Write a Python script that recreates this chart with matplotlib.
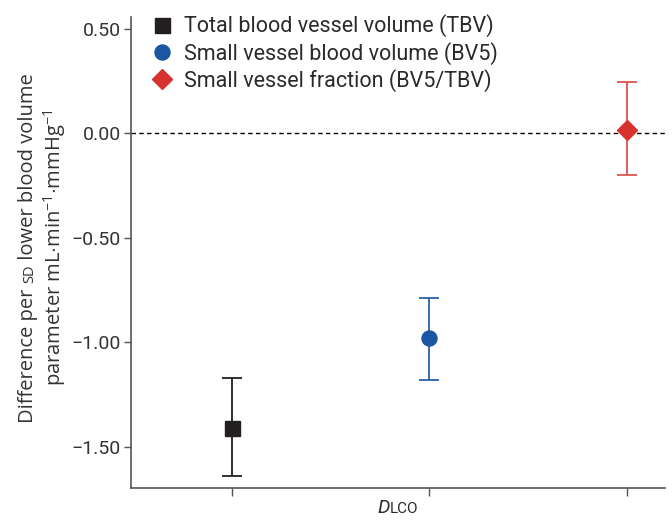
import matplotlib
matplotlib.use("Agg")
import matplotlib.pyplot as plt
from matplotlib.lines import Line2D

plt.rcParams['font.family'] = ['Roboto', 'DejaVu Sans']
plt.rcParams['mathtext.fontset'] = 'custom'
plt.rcParams['mathtext.rm'] = 'Open Sans'
plt.rcParams['mathtext.it'] = 'Open Sans:italic'

# data
series = ["Total blood vessel volume (TBV)",
          "Small vessel blood volume (BV5)",
          "Small vessel fraction (BV5/TBV)"]
x_pos = [0, 1, 2]
estimates = [-1.41, -0.98, 0.015]
ci_low = [-1.64, -1.18, -0.20]
ci_high = [-1.17, -0.79, 0.245]
yticks = [0.5, 0.0, -0.5, -1.0, -1.5]
yticklabels = ["0.50", "0.00", "\u22120.50", "\u22121.00", "\u22121.50"]

markers = ['s', 'o', 'D']
mcolors = ['#231f20', '#1b56a2', '#d8322e']
ecolors = ['#231f20', '#2a62ac', '#e0534d']
msizes = [10.8, 10.8, 10.6]

W, H = 672, 524
fig = plt.figure(figsize=(W / 100, H / 100), dpi=100)
ax = fig.add_axes([130.7 / W, 1 - 488 / H, (665 - 130.7) / W, (488 - 17) / H])

for i in range(3):
    ax.errorbar(x_pos[i], estimates[i],
                yerr=[[estimates[i] - ci_low[i]], [ci_high[i] - estimates[i]]],
                fmt='none', ecolor=ecolors[i], elinewidth=1.3, capsize=7, capthick=1.3, zorder=2)
    ax.plot(x_pos[i], estimates[i], marker=markers[i], color=mcolors[i],
            markersize=msizes[i], linestyle='none', zorder=3)

ax.axhline(0, color='black', linestyle=(0, (3.2, 2.4)), linewidth=1.0, zorder=1)

ax.set_xlim(-0.511, 2.194)
ax.set_ylim(-1.698, 0.557)
ax.set_yticks(yticks)
ax.set_yticklabels(yticklabels)
ax.set_xticks(x_pos)
ax.set_xticklabels([])

for s in ['top', 'right']:
    ax.spines[s].set_visible(False)
for s in ['left', 'bottom']:
    ax.spines[s].set_color('#555555')
    ax.spines[s].set_linewidth(1.2)
ax.tick_params(axis='y', length=5.2, width=1.0, color='#555555', labelsize=14,
               labelcolor='#333333', pad=2)
ax.tick_params(axis='x', length=6, width=1.0, color='#555555')

handles = [Line2D([], [], marker=markers[i], color=mcolors[i], markersize=msizes[i],
                  linestyle='none') for i in range(3)]
fig.legend(handles, series, loc='upper left', bbox_to_anchor=(151.6 / W, 1 - 14.5 / H),
           frameon=False, fontsize=15.5, handlelength=1.0, handletextpad=0.5,
           labelspacing=0.2, borderpad=0, borderaxespad=0, labelcolor='#2a2a2a')

fig.canvas.draw()
renderer = fig.canvas.get_renderer()
YFONT = 'Open Sans'


def piece_widths(pieces):
    ws = []
    for txt, size in pieces:
        t = fig.text(0, 0, txt, fontsize=size, family=YFONT)
        ws.append(t.get_window_extent(renderer).width)
        t.remove()
    return ws


def rotated_line(pieces, xb, yc, color='#333333'):
    ws = piece_widths(pieces)
    y = yc - sum(ws) / 2
    for (txt, size), w in zip(pieces, ws):
        fig.text(xb / W, y / H, txt, fontsize=size, family=YFONT,
                 rotation=90, rotation_mode='anchor', ha='left', va='baseline', color=color)
        y += w


yc = H - 248
line1 = [("Difference per ", 14.5), ("SD", 10.5), (" lower blood volume", 14.5)]
line2 = [(r"parameter mL$\cdot$min$^{-1}$$\cdot$mmHg$^{-1}$", 14.5)]
rotated_line(line1, 33, yc)
rotated_line(line2, 61, yc)

# x label: italic D + small caps LCO
xl = [("D", 14, 'italic'), ("LCO", 11, 'normal')]
ws = []
for txt, size, st in xl:
    t = fig.text(0, 0, txt, fontsize=size, style=st)
    ws.append(t.get_window_extent(renderer).width)
    t.remove()
x0 = 398 - sum(ws) / 2
for (txt, size, st), w in zip(xl, ws):
    fig.text(x0 / W, 1 - 513 / H, txt, fontsize=size, style=st, ha='left', va='baseline',
             color='#2a2a2a')
    x0 += w

fig.savefig("out.png", dpi=100)
